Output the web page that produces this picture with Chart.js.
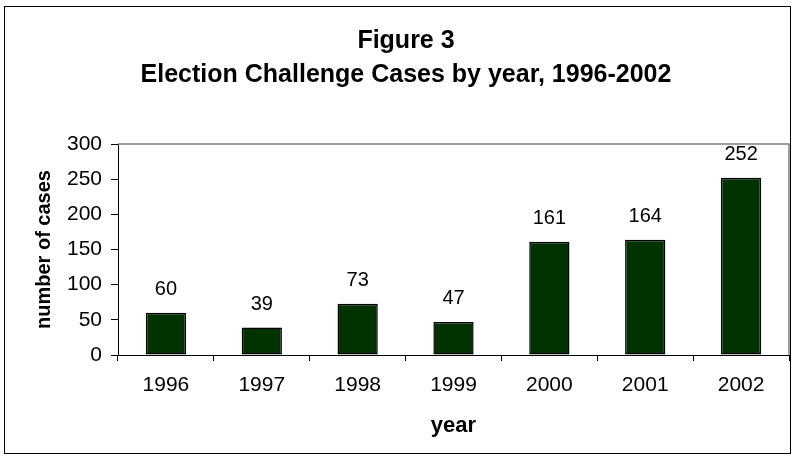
<!DOCTYPE html>
<html>
<head>
<meta charset="utf-8">
<script src="https://cdn.jsdelivr.net/npm/chart.js@4"></script>
<style>
  html, body { margin: 0; padding: 0; background: #fff; }
  #wrap { width: 794px; height: 459px; }
</style>
</head>
<body>
<div id="wrap"><canvas id="myChart" width="794" height="459"></canvas></div>
<script>
// election challenge cases per year
const years = ["1996", "1997", "1998", "1999", "2000", "2001", "2002"];
const cases = [60, 39, 73, 47, 161, 164, 252];
const yTicks = [0, 50, 100, 150, 200, 250, 300];

const FONT = "'Liberation Sans', Arial, sans-serif";

// outer frame + grey plot-area border (top and right)
const framePlugin = {
  id: "frame",
  beforeDraw(chart) {
    const ctx = chart.ctx;
    ctx.save();
    ctx.fillStyle = "#fff";
    ctx.fillRect(0, 0, chart.width, chart.height);
    ctx.strokeStyle = "#000";
    ctx.lineWidth = 1;
    ctx.strokeRect(4.5, 6.5, 786, 447);
    ctx.restore();
  },
  beforeDatasetsDraw(chart) {
    const a = chart.chartArea;
    const ctx = chart.ctx;
    ctx.save();
    ctx.strokeStyle = "#808080";
    ctx.lineWidth = 1.5;
    ctx.beginPath();
    ctx.moveTo(a.left, a.top);
    ctx.lineTo(a.right, a.top);
    ctx.lineTo(a.right, a.bottom);
    ctx.stroke();
    ctx.restore();
  }
};

// value labels above the bars
const valueLabels = {
  id: "valueLabels",
  afterDatasetsDraw(chart) {
    const ctx = chart.ctx;
    const meta = chart.getDatasetMeta(0);
    ctx.save();
    ctx.font = "20px " + FONT;
    ctx.fillStyle = "#000";
    ctx.textAlign = "center";
    ctx.textBaseline = "middle";
    meta.data.forEach((bar, i) => {
      ctx.fillText(String(cases[i]), bar.x, bar.y - 23);
    });
    ctx.restore();
  }
};

const myChart = new Chart("myChart", {
  type: "bar",
  data: {
    labels: years,
    datasets: [{
      data: cases,
      backgroundColor: "#003300",
      borderColor: "#000",
      borderWidth: 1.5,
      borderSkipped: false,
      barPercentage: 0.42,
      categoryPercentage: 1
    }]
  },
  options: {
    responsive: false,
    animation: false,
    layout: { padding: { left: 23, right: 5, top: 0, bottom: 0 } },
    plugins: {
      legend: { display: false },
      tooltip: { enabled: false },
      title: {
        display: true,
        text: ["Figure 3", "Election Challenge Cases by year, 1996-2002"],
        color: "#000",
        font: { family: FONT, size: 25, weight: "bold", lineHeight: 1.36 },
        padding: { top: 24, bottom: 52 }
      }
    },
    scales: {
      x: {
        offset: true,
        grid: {
          offset: true,
          drawOnChartArea: false,
          drawTicks: true,
          tickLength: 6,
          color: "#000"
        },
        border: { display: true, color: "#000", width: 1 },
        ticks: {
          color: "#000",
          font: { family: FONT, size: 21 },
          padding: 12,
          maxRotation: 0
        },
        title: {
          display: true,
          text: "year",
          color: "#000",
          font: { family: FONT, size: 22, weight: "bold" },
          padding: { top: 0, bottom: 20 }
        },
        afterFit(scale) { scale.height = 104; }
      },
      y: {
        min: yTicks[0],
        max: yTicks[yTicks.length - 1],
        afterBuildTicks(scale) { scale.ticks = yTicks.map(v => ({ value: v })); },
        grid: {
          drawOnChartArea: false,
          drawTicks: true,
          tickLength: 7,
          color: "#000"
        },
        border: { display: true, color: "#000", width: 1 },
        ticks: {
          color: "#000",
          font: { family: FONT, size: 21 },
          padding: 9
        },
        title: {
          display: true,
          text: "number of cases",
          color: "#000",
          font: { family: FONT, size: 20, weight: "bold" },
          padding: { top: 9, bottom: 0 }
        },
        afterFit(scale) { scale.width = 95; }
      }
    }
  },
  plugins: [framePlugin, valueLabels]
});
</script>
</body>
</html>
